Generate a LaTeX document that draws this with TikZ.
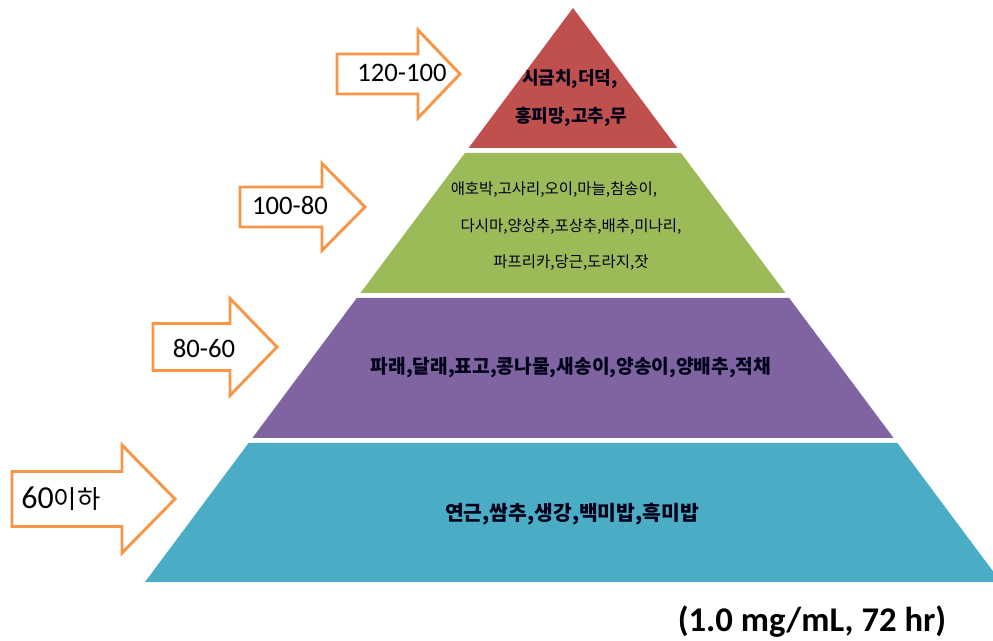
\documentclass[tikz,border=0pt]{standalone}
\usepackage{fontspec}
\setmainfont{Carlito}
\newfontfamily\kr{Noto Sans CJK KR}
\definecolor{tierred}{HTML}{C0504D}
\definecolor{tiergreen}{HTML}{9BBB59}
\definecolor{tierpurple}{HTML}{8064A2}
\definecolor{tiercyan}{HTML}{4BACC6}
\definecolor{arroworange}{HTML}{F79646}
\tikzset{
  arrowline/.style={draw=arroworange,line width=2.2pt,fill=white,line join=miter},
  rangelbl/.style={inner sep=0pt,font=\fontsize{20}{22}\selectfont},
  veg/.style={inner sep=0pt,text=black!90!blue},
}
% block arrow: left, head base, tip, centre y, half body, half head
\newcommand{\orangearrow}[6]{%
  \draw[arrowline] (#1,#4-#5) -- (#2,#4-#5) -- (#2,#4-#6) -- (#3,#4)
    -- (#2,#4+#6) -- (#2,#4+#5) -- (#1,#4+#5) -- cycle;}
\begin{document}
\begin{tikzpicture}[x=0.75pt,y=-0.75pt]
\useasboundingbox (0,0) rectangle (993,641);
\begin{scope}
\clip (0,0) rectangle (993,641);
\fill[tierred] (573,8) -- (677.4,148) -- (468.6,148) -- cycle;
\fill[tiergreen] (464.9,153) -- (681.1,153) -- (785.5,293) -- (360.5,293) -- cycle;
\fill[tierpurple] (356.8,298) -- (789.2,298) -- (893.6,438) -- (252.4,438) -- cycle;
\fill[tiercyan] (248.6,443) -- (897.4,443) -- (1001,582) -- (145,582) -- cycle;
\end{scope}
% level arrows
\orangearrow{337}{418}{460}{74}{20}{44}
\orangearrow{240}{322}{365}{207}{20}{43.5}
\orangearrow{153}{230}{277}{347}{23.5}{48.5}
\orangearrow{12}{122}{175}{499}{27.5}{54}
\node[rangelbl] (r1) at (402,73) {120-100};
\node[rangelbl] (r2) at (290,205) {100-80};
\node[rangelbl] (r3) at (204,348) {80-60};
\node[inner sep=0pt] (r4) at (61,499)
  {\fontsize{24}{26}\selectfont 60\kr\fontsize{19}{22}\selectfont 이하};
% tier contents
\node[veg,font=\kr\bfseries\fontsize{13.5}{16}\selectfont] (red1) at (570,79) {시금치,더덕,};
\node[veg,font=\kr\bfseries\fontsize{13.5}{16}\selectfont] (red2) at (571,117) {홍피망,고추,무};
\node[veg,font=\kr\fontsize{11.6}{14}\selectfont] (green1) at (554,190) {애호박,고사리,오이,마늘,참송이,};
\node[veg,font=\kr\fontsize{11.6}{14}\selectfont] (green2) at (571,227) {다시마,양상추,포상추,배추,미나리,};
\node[veg,font=\kr\fontsize{11.6}{14}\selectfont] (green3) at (571,263) {파프리카,당근,도라지,잣};
\node[veg,font=\kr\bfseries\fontsize{14.4}{16}\selectfont] (purple1) at (571,368) {파래,달래,표고,콩나물,새송이,양송이,양배추,적채};
\node[veg,font=\kr\bfseries\fontsize{15.3}{18}\selectfont] (cyan1) at (572,514) {연근,쌈추,생강,백미밥,흑미밥};
\node[inner sep=0pt,font=\bfseries\fontsize{26}{28}\selectfont] (cond) at (812,622) {(1.0 mg/mL, 72 hr)};
\end{tikzpicture}
\end{document}
